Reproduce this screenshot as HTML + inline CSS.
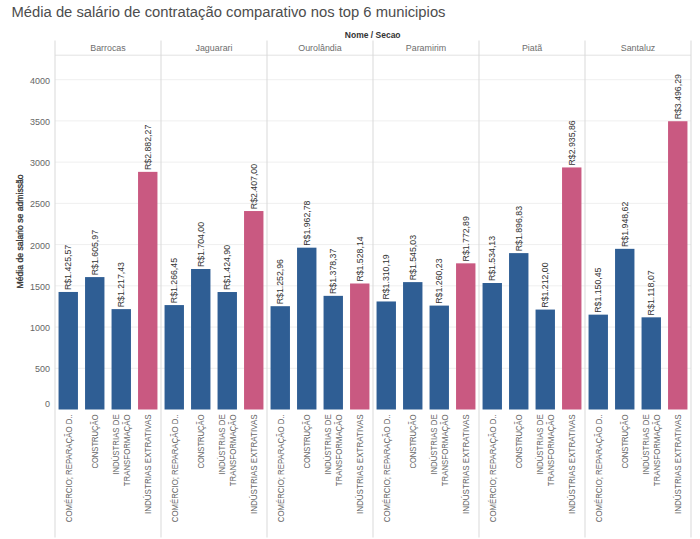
<!DOCTYPE html><html><head><meta charset="utf-8"><style>html,body{margin:0;padding:0;background:#fff;}svg{display:block;}text{font-family:"Liberation Sans",sans-serif;}</style></head><body>
<svg width="700" height="539" viewBox="0 0 700 539">
<rect width="700" height="539" fill="#fff"/>
<text x="11.5" y="16.8" font-size="14.7" fill="#4d4d4d" textLength="434" lengthAdjust="spacingAndGlyphs">Média de salário de contratação comparativo nos top 6 municipios</text>
<text x="372.7" y="37.6" font-size="8.5" font-weight="bold" fill="#333" text-anchor="middle">Nome / Secao</text>
<line x1="55.0" x2="691.0" y1="368.27" y2="368.27" stroke="#efefef" stroke-width="1"/>
<line x1="55.0" x2="691.0" y1="327.05" y2="327.05" stroke="#efefef" stroke-width="1"/>
<line x1="55.0" x2="691.0" y1="285.82" y2="285.82" stroke="#efefef" stroke-width="1"/>
<line x1="55.0" x2="691.0" y1="244.60" y2="244.60" stroke="#efefef" stroke-width="1"/>
<line x1="55.0" x2="691.0" y1="203.37" y2="203.37" stroke="#efefef" stroke-width="1"/>
<line x1="55.0" x2="691.0" y1="162.15" y2="162.15" stroke="#efefef" stroke-width="1"/>
<line x1="55.0" x2="691.0" y1="120.92" y2="120.92" stroke="#efefef" stroke-width="1"/>
<line x1="55.0" x2="691.0" y1="79.70" y2="79.70" stroke="#efefef" stroke-width="1"/>
<line x1="55.0" x2="691.0" y1="55.2" y2="55.2" stroke="#e2e2e2" stroke-width="1"/>
<line x1="55.00" x2="55.00" y1="40.5" y2="537.5" stroke="#d9d9d9" stroke-width="1"/>
<line x1="161.00" x2="161.00" y1="40.5" y2="537.5" stroke="#d9d9d9" stroke-width="1"/>
<line x1="267.00" x2="267.00" y1="40.5" y2="537.5" stroke="#d9d9d9" stroke-width="1"/>
<line x1="373.00" x2="373.00" y1="40.5" y2="537.5" stroke="#d9d9d9" stroke-width="1"/>
<line x1="479.00" x2="479.00" y1="40.5" y2="537.5" stroke="#d9d9d9" stroke-width="1"/>
<line x1="585.00" x2="585.00" y1="40.5" y2="537.5" stroke="#d9d9d9" stroke-width="1"/>
<line x1="691.00" x2="691.00" y1="40.5" y2="537.5" stroke="#d9d9d9" stroke-width="1"/>
<text x="108.00" y="51.4" font-size="8.9" fill="#6e6e6e" text-anchor="middle">Barrocas</text>
<text x="214.00" y="51.4" font-size="8.9" fill="#6e6e6e" text-anchor="middle">Jaguarari</text>
<text x="320.00" y="51.4" font-size="8.9" fill="#6e6e6e" text-anchor="middle">Ourolândia</text>
<text x="426.00" y="51.4" font-size="8.9" fill="#6e6e6e" text-anchor="middle">Paramirim</text>
<text x="532.00" y="51.4" font-size="8.9" fill="#6e6e6e" text-anchor="middle">Piatã</text>
<text x="638.00" y="51.4" font-size="8.9" fill="#6e6e6e" text-anchor="middle">Santaluz</text>
<text x="50" y="407.20" font-size="9.5" fill="#666" text-anchor="end" textLength="5.0" lengthAdjust="spacingAndGlyphs">0</text>
<text x="50" y="372.17" font-size="9.5" fill="#666" text-anchor="end" textLength="15.0" lengthAdjust="spacingAndGlyphs">500</text>
<text x="50" y="330.95" font-size="9.5" fill="#666" text-anchor="end" textLength="20.0" lengthAdjust="spacingAndGlyphs">1000</text>
<text x="50" y="289.72" font-size="9.5" fill="#666" text-anchor="end" textLength="20.0" lengthAdjust="spacingAndGlyphs">1500</text>
<text x="50" y="248.50" font-size="9.5" fill="#666" text-anchor="end" textLength="20.0" lengthAdjust="spacingAndGlyphs">2000</text>
<text x="50" y="207.27" font-size="9.5" fill="#666" text-anchor="end" textLength="20.0" lengthAdjust="spacingAndGlyphs">2500</text>
<text x="50" y="166.05" font-size="9.5" fill="#666" text-anchor="end" textLength="20.0" lengthAdjust="spacingAndGlyphs">3000</text>
<text x="50" y="124.82" font-size="9.5" fill="#666" text-anchor="end" textLength="20.0" lengthAdjust="spacingAndGlyphs">3500</text>
<text x="50" y="83.60" font-size="9.5" fill="#666" text-anchor="end" textLength="20.0" lengthAdjust="spacingAndGlyphs">4000</text>
<text transform="translate(23.2,231.4) rotate(-90)" font-size="8.2" fill="#333" stroke="#333" stroke-width="0.3" text-anchor="middle" textLength="114" lengthAdjust="spacingAndGlyphs">Média de salario se admissão</text>
<rect x="58.55" y="291.96" width="19.4" height="117.54" fill="#2f5e94"/>
<text transform="translate(71.15,290.06) rotate(-90)" font-size="9.6" fill="#333" textLength="45.2" lengthAdjust="spacingAndGlyphs">R$1.425,57</text>
<text transform="translate(71.55,414.4) rotate(-90)" font-size="9.2" fill="#666" text-anchor="end" textLength="107.8" lengthAdjust="spacingAndGlyphs">COMÉRCIO; REPARAÇÃO D..</text>
<rect x="85.05" y="277.09" width="19.4" height="132.41" fill="#2f5e94"/>
<text transform="translate(97.65,275.19) rotate(-90)" font-size="9.6" fill="#333" textLength="45.2" lengthAdjust="spacingAndGlyphs">R$1.605,97</text>
<text transform="translate(98.05,414.4) rotate(-90)" font-size="9.2" fill="#666" text-anchor="end" textLength="54.2" lengthAdjust="spacingAndGlyphs">CONSTRUÇÃO</text>
<rect x="111.55" y="309.12" width="19.4" height="100.38" fill="#2f5e94"/>
<text transform="translate(124.15,307.22) rotate(-90)" font-size="9.6" fill="#333" textLength="45.2" lengthAdjust="spacingAndGlyphs">R$1.217,43</text>
<text transform="translate(118.95,414.4) rotate(-90)" font-size="9.2" fill="#666" text-anchor="end" textLength="60.4" lengthAdjust="spacingAndGlyphs">INDÚSTRIAS DE</text>
<text transform="translate(129.85,414.4) rotate(-90)" font-size="9.2" fill="#666" text-anchor="end" textLength="71.8" lengthAdjust="spacingAndGlyphs">TRANSFORMAÇÃO</text>
<rect x="138.05" y="171.86" width="19.4" height="237.64" fill="#c95981"/>
<text transform="translate(150.65,169.96) rotate(-90)" font-size="9.6" fill="#333" textLength="45.2" lengthAdjust="spacingAndGlyphs">R$2.882,27</text>
<text transform="translate(151.05,414.4) rotate(-90)" font-size="9.2" fill="#666" text-anchor="end" textLength="99.6" lengthAdjust="spacingAndGlyphs">INDÚSTRIAS EXTRATIVAS</text>
<rect x="164.55" y="305.08" width="19.4" height="104.42" fill="#2f5e94"/>
<text transform="translate(177.15,303.18) rotate(-90)" font-size="9.6" fill="#333" textLength="45.2" lengthAdjust="spacingAndGlyphs">R$1.266,45</text>
<text transform="translate(177.55,414.4) rotate(-90)" font-size="9.2" fill="#666" text-anchor="end" textLength="107.8" lengthAdjust="spacingAndGlyphs">COMÉRCIO; REPARAÇÃO D..</text>
<rect x="191.05" y="269.01" width="19.4" height="140.49" fill="#2f5e94"/>
<text transform="translate(203.65,267.11) rotate(-90)" font-size="9.6" fill="#333" textLength="45.2" lengthAdjust="spacingAndGlyphs">R$1.704,00</text>
<text transform="translate(204.05,414.4) rotate(-90)" font-size="9.2" fill="#666" text-anchor="end" textLength="54.2" lengthAdjust="spacingAndGlyphs">CONSTRUÇÃO</text>
<rect x="217.55" y="292.02" width="19.4" height="117.48" fill="#2f5e94"/>
<text transform="translate(230.15,290.12) rotate(-90)" font-size="9.6" fill="#333" textLength="45.2" lengthAdjust="spacingAndGlyphs">R$1.424,90</text>
<text transform="translate(224.95,414.4) rotate(-90)" font-size="9.2" fill="#666" text-anchor="end" textLength="60.4" lengthAdjust="spacingAndGlyphs">INDÚSTRIAS DE</text>
<text transform="translate(235.85,414.4) rotate(-90)" font-size="9.2" fill="#666" text-anchor="end" textLength="71.8" lengthAdjust="spacingAndGlyphs">TRANSFORMAÇÃO</text>
<rect x="244.05" y="211.04" width="19.4" height="198.46" fill="#c95981"/>
<text transform="translate(256.65,209.14) rotate(-90)" font-size="9.6" fill="#333" textLength="45.2" lengthAdjust="spacingAndGlyphs">R$2.407,00</text>
<text transform="translate(257.05,414.4) rotate(-90)" font-size="9.2" fill="#666" text-anchor="end" textLength="99.6" lengthAdjust="spacingAndGlyphs">INDÚSTRIAS EXTRATIVAS</text>
<rect x="270.55" y="306.19" width="19.4" height="103.31" fill="#2f5e94"/>
<text transform="translate(283.15,304.29) rotate(-90)" font-size="9.6" fill="#333" textLength="45.2" lengthAdjust="spacingAndGlyphs">R$1.252,96</text>
<text transform="translate(283.55,414.4) rotate(-90)" font-size="9.2" fill="#666" text-anchor="end" textLength="107.8" lengthAdjust="spacingAndGlyphs">COMÉRCIO; REPARAÇÃO D..</text>
<rect x="297.05" y="247.67" width="19.4" height="161.83" fill="#2f5e94"/>
<text transform="translate(309.65,245.77) rotate(-90)" font-size="9.6" fill="#333" textLength="45.2" lengthAdjust="spacingAndGlyphs">R$1.962,78</text>
<text transform="translate(310.05,414.4) rotate(-90)" font-size="9.2" fill="#666" text-anchor="end" textLength="54.2" lengthAdjust="spacingAndGlyphs">CONSTRUÇÃO</text>
<rect x="323.55" y="295.85" width="19.4" height="113.65" fill="#2f5e94"/>
<text transform="translate(336.15,293.95) rotate(-90)" font-size="9.6" fill="#333" textLength="45.2" lengthAdjust="spacingAndGlyphs">R$1.378,37</text>
<text transform="translate(330.95,414.4) rotate(-90)" font-size="9.2" fill="#666" text-anchor="end" textLength="60.4" lengthAdjust="spacingAndGlyphs">INDÚSTRIAS DE</text>
<text transform="translate(341.85,414.4) rotate(-90)" font-size="9.2" fill="#666" text-anchor="end" textLength="71.8" lengthAdjust="spacingAndGlyphs">TRANSFORMAÇÃO</text>
<rect x="350.05" y="283.50" width="19.4" height="126.00" fill="#c95981"/>
<text transform="translate(362.65,281.60) rotate(-90)" font-size="9.6" fill="#333" textLength="45.2" lengthAdjust="spacingAndGlyphs">R$1.528,14</text>
<text transform="translate(363.05,414.4) rotate(-90)" font-size="9.2" fill="#666" text-anchor="end" textLength="99.6" lengthAdjust="spacingAndGlyphs">INDÚSTRIAS EXTRATIVAS</text>
<rect x="376.55" y="301.47" width="19.4" height="108.03" fill="#2f5e94"/>
<text transform="translate(389.15,299.57) rotate(-90)" font-size="9.6" fill="#333" textLength="45.2" lengthAdjust="spacingAndGlyphs">R$1.310,19</text>
<text transform="translate(389.55,414.4) rotate(-90)" font-size="9.2" fill="#666" text-anchor="end" textLength="107.8" lengthAdjust="spacingAndGlyphs">COMÉRCIO; REPARAÇÃO D..</text>
<rect x="403.05" y="282.11" width="19.4" height="127.39" fill="#2f5e94"/>
<text transform="translate(415.65,280.21) rotate(-90)" font-size="9.6" fill="#333" textLength="45.2" lengthAdjust="spacingAndGlyphs">R$1.545,03</text>
<text transform="translate(416.05,414.4) rotate(-90)" font-size="9.2" fill="#666" text-anchor="end" textLength="54.2" lengthAdjust="spacingAndGlyphs">CONSTRUÇÃO</text>
<rect x="429.55" y="305.59" width="19.4" height="103.91" fill="#2f5e94"/>
<text transform="translate(442.15,303.69) rotate(-90)" font-size="9.6" fill="#333" textLength="45.2" lengthAdjust="spacingAndGlyphs">R$1.260,23</text>
<text transform="translate(436.95,414.4) rotate(-90)" font-size="9.2" fill="#666" text-anchor="end" textLength="60.4" lengthAdjust="spacingAndGlyphs">INDÚSTRIAS DE</text>
<text transform="translate(447.85,414.4) rotate(-90)" font-size="9.2" fill="#666" text-anchor="end" textLength="71.8" lengthAdjust="spacingAndGlyphs">TRANSFORMAÇÃO</text>
<rect x="456.05" y="263.33" width="19.4" height="146.17" fill="#c95981"/>
<text transform="translate(468.65,261.43) rotate(-90)" font-size="9.6" fill="#333" textLength="45.2" lengthAdjust="spacingAndGlyphs">R$1.772,89</text>
<text transform="translate(469.05,414.4) rotate(-90)" font-size="9.2" fill="#666" text-anchor="end" textLength="99.6" lengthAdjust="spacingAndGlyphs">INDÚSTRIAS EXTRATIVAS</text>
<rect x="482.55" y="283.01" width="19.4" height="126.49" fill="#2f5e94"/>
<text transform="translate(495.15,281.11) rotate(-90)" font-size="9.6" fill="#333" textLength="45.2" lengthAdjust="spacingAndGlyphs">R$1.534,13</text>
<text transform="translate(495.55,414.4) rotate(-90)" font-size="9.2" fill="#666" text-anchor="end" textLength="107.8" lengthAdjust="spacingAndGlyphs">COMÉRCIO; REPARAÇÃO D..</text>
<rect x="509.05" y="253.11" width="19.4" height="156.39" fill="#2f5e94"/>
<text transform="translate(521.65,251.21) rotate(-90)" font-size="9.6" fill="#333" textLength="45.2" lengthAdjust="spacingAndGlyphs">R$1.896,83</text>
<text transform="translate(522.05,414.4) rotate(-90)" font-size="9.2" fill="#666" text-anchor="end" textLength="54.2" lengthAdjust="spacingAndGlyphs">CONSTRUÇÃO</text>
<rect x="535.55" y="309.57" width="19.4" height="99.93" fill="#2f5e94"/>
<text transform="translate(548.15,307.67) rotate(-90)" font-size="9.6" fill="#333" textLength="45.2" lengthAdjust="spacingAndGlyphs">R$1.212,00</text>
<text transform="translate(542.95,414.4) rotate(-90)" font-size="9.2" fill="#666" text-anchor="end" textLength="60.4" lengthAdjust="spacingAndGlyphs">INDÚSTRIAS DE</text>
<text transform="translate(553.85,414.4) rotate(-90)" font-size="9.2" fill="#666" text-anchor="end" textLength="71.8" lengthAdjust="spacingAndGlyphs">TRANSFORMAÇÃO</text>
<rect x="562.05" y="167.44" width="19.4" height="242.06" fill="#c95981"/>
<text transform="translate(574.65,165.54) rotate(-90)" font-size="9.6" fill="#333" textLength="45.2" lengthAdjust="spacingAndGlyphs">R$2.935,86</text>
<text transform="translate(575.05,414.4) rotate(-90)" font-size="9.2" fill="#666" text-anchor="end" textLength="99.6" lengthAdjust="spacingAndGlyphs">INDÚSTRIAS EXTRATIVAS</text>
<rect x="588.55" y="314.65" width="19.4" height="94.85" fill="#2f5e94"/>
<text transform="translate(601.15,312.75) rotate(-90)" font-size="9.6" fill="#333" textLength="45.2" lengthAdjust="spacingAndGlyphs">R$1.150,45</text>
<text transform="translate(601.55,414.4) rotate(-90)" font-size="9.2" fill="#666" text-anchor="end" textLength="107.8" lengthAdjust="spacingAndGlyphs">COMÉRCIO; REPARAÇÃO D..</text>
<rect x="615.05" y="248.84" width="19.4" height="160.66" fill="#2f5e94"/>
<text transform="translate(627.65,246.94) rotate(-90)" font-size="9.6" fill="#333" textLength="45.2" lengthAdjust="spacingAndGlyphs">R$1.948,62</text>
<text transform="translate(628.05,414.4) rotate(-90)" font-size="9.2" fill="#666" text-anchor="end" textLength="54.2" lengthAdjust="spacingAndGlyphs">CONSTRUÇÃO</text>
<rect x="641.55" y="317.32" width="19.4" height="92.18" fill="#2f5e94"/>
<text transform="translate(654.15,315.42) rotate(-90)" font-size="9.6" fill="#333" textLength="45.2" lengthAdjust="spacingAndGlyphs">R$1.118,07</text>
<text transform="translate(648.95,414.4) rotate(-90)" font-size="9.2" fill="#666" text-anchor="end" textLength="60.4" lengthAdjust="spacingAndGlyphs">INDÚSTRIAS DE</text>
<text transform="translate(659.85,414.4) rotate(-90)" font-size="9.2" fill="#666" text-anchor="end" textLength="71.8" lengthAdjust="spacingAndGlyphs">TRANSFORMAÇÃO</text>
<rect x="668.05" y="121.23" width="19.4" height="288.27" fill="#c95981"/>
<text transform="translate(680.65,119.33) rotate(-90)" font-size="9.6" fill="#333" textLength="45.2" lengthAdjust="spacingAndGlyphs">R$3.496,29</text>
<text transform="translate(681.05,414.4) rotate(-90)" font-size="9.2" fill="#666" text-anchor="end" textLength="99.6" lengthAdjust="spacingAndGlyphs">INDÚSTRIAS EXTRATIVAS</text>
</svg></body></html>
